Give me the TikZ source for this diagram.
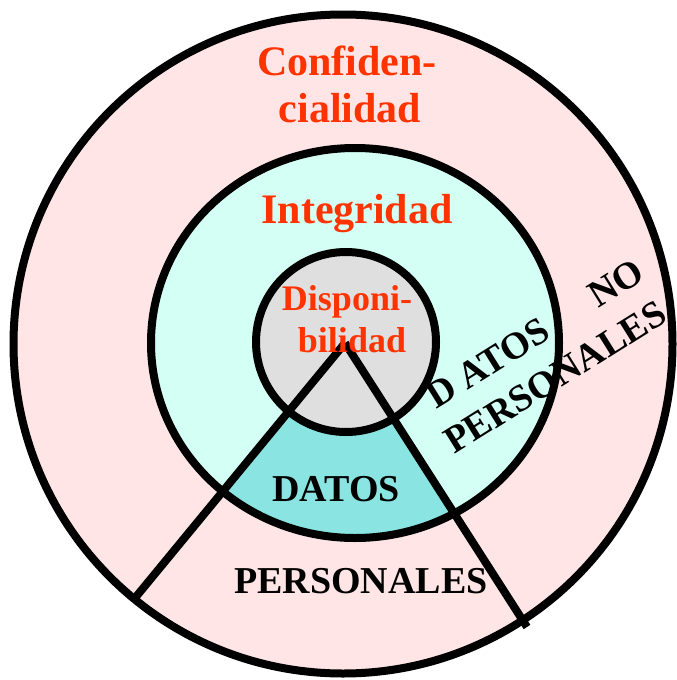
\documentclass[tikz,border=0pt]{standalone}
\usepackage{fontspec}
\setmainfont{Liberation Serif}
\definecolor{confred}{HTML}{FF3300}
\definecolor{outerpink}{HTML}{FFE5E5}
\definecolor{midcyan}{HTML}{D4FFF4}
\definecolor{coregray}{HTML}{DFDFDF}
\definecolor{datosteal}{HTML}{8AE5E2}
\begin{document}
\begin{tikzpicture}[x=1pt, y=-1pt,
    ring/.style={draw, line width=8pt},
    red big/.style={text=confred, font=\bfseries\fontsize{42}{42}\selectfont},
    red small/.style={text=confred, font=\bfseries\fontsize{36}{36}\selectfont},
    black label/.style={text=black, font=\bfseries\fontsize{38}{38}\selectfont}]
            \tikzstyle{every node}=[inner sep=0pt, anchor=base]
            \useasboundingbox (0,0) rectangle (677,680);

              \coordinate (centre) at (345,343);
              \coordinate (leftend) at (135,598);
              \coordinate (rightend) at (527,627);

              % rings
              \fill[outerpink] (343,344) circle [radius=329.5];
              \fill[midcyan] (355,343) ellipse [x radius=204, y radius=195];
              \begin{scope}
                \clip (centre) -- (leftend) -- (rightend) -- cycle;
                \fill[datosteal] (355,343) ellipse [x radius=204, y radius=195];
              \end{scope}
              \fill[coregray] (346,342) circle [radius=90];

              \draw[line width=8pt] (centre) -- (leftend);
              \draw[line width=8pt] (centre) -- (rightend);

              \draw[ring] (343,344) circle [radius=329.5];
              \draw[ring] (355,343) ellipse [x radius=204, y radius=195];
              \draw[ring] (346,342) circle [radius=90];

              % labels
              \node[red big] (conf1) at (347,75) {Confiden-};
              \node[red big] (conf2) at (350,122) {cialidad};
              \node[red big] (integ) at (357,223) {Integridad};
              \node[red small] (disp1) at (347,310) {Disponi-};
              \node[red small] (disp2) at (352,352) {bilidad};
              \node[black label] (datos) at (336,501) {DATOS};
              \node[black label] (pers) at (361,593) {PERSONALES};
              \node[black label, anchor=base west, rotate=32] (ndatos) at (436,410) {D ATOS};
              \node[black label, anchor=base west, rotate=32] (nno) at (598,309) {NO};
              \node[black label, anchor=base west, rotate=32] (npers) at (454,455) {PERSONALES};
            \end{tikzpicture}
\end{document}
